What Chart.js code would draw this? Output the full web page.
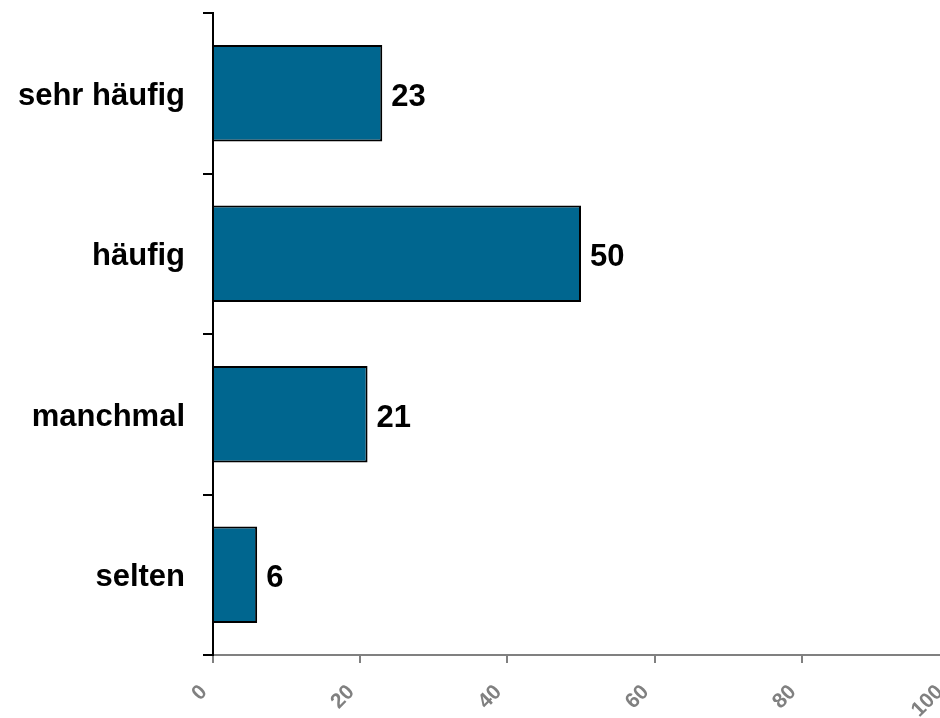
<!DOCTYPE html>
<html>
<head>
<meta charset="utf-8">
<script src="https://cdn.jsdelivr.net/npm/chart.js@4"></script>
<style>
  html, body { margin: 0; padding: 0; background: #fff; overflow: hidden; }
  #wrap { width: 980px; height: 718px; position: relative; }
</style>
</head>
<body>
<div id="wrap"><canvas id="freqChart"></canvas></div>
<script>
const categories = ['sehr häufig', 'häufig', 'manchmal', 'selten'];
const values = [23, 50, 21, 6];
const xTicks = [0, 20, 40, 60, 80, 100];

const FONT = '"Liberation Sans", Arial, sans-serif';

// draws the number to the right of each bar
const valueLabels = {
    id: 'valueLabels',
    afterDatasetsDraw(chart) {
        const ctx = chart.ctx;
        const meta = chart.getDatasetMeta(0);
        ctx.save();
        ctx.font = 'bold 31px ' + FONT;
        ctx.fillStyle = '#000';
        ctx.textAlign = 'left';
        ctx.textBaseline = 'middle';
        meta.data.forEach((bar, i) => {
            ctx.fillText(String(values[i]), bar.x + 9, bar.y + 4);
        });
        ctx.restore();
    }
};

const config = {
    type: 'bar',
    data: {
        labels: categories,
        datasets: [{
            data: values,
            backgroundColor: '#00668F',
            borderColor: '#000',
            borderWidth: 2,
            categoryPercentage: 1,
            barPercentage: 0.6
        }]
    },
    options: {
        indexAxis: 'y',
        responsive: true,
        maintainAspectRatio: false,
        animation: false,
        layout: { padding: { top: 13, right: 31, left: 0, bottom: 0 } },
        plugins: {
            legend: { display: false },
            tooltip: { enabled: false }
        },
        scales: {
            x: {
                min: 0,
                max: 100,
                afterBuildTicks: (axis) => { axis.ticks = xTicks.map(v => ({ value: v })); },
                afterFit: (axis) => {
                    axis.height = 63;
                    axis.paddingLeft = 0;
                    axis.paddingRight = 0;
                },
                grid: { drawOnChartArea: false, color: '#808080', tickLength: 8, lineWidth: 2 },
                border: { color: '#808080', width: 2 },
                ticks: {
                    color: '#808080',
                    font: { family: FONT, size: 21, weight: 'bold' },
                    minRotation: 45,
                    maxRotation: 45,
                    padding: 17,
                    labelOffset: -9
                }
            },
            y: {
                afterFit: (axis) => {
                    axis.width = 213;
                    axis.paddingTop = 0;
                    axis.paddingBottom = 0;
                },
                grid: { drawOnChartArea: false, color: '#000', tickLength: 10, lineWidth: 2, offset: true },
                border: { color: '#000', width: 2 },
                ticks: {
                    color: '#000',
                    font: { family: FONT, size: 31, weight: 'bold' },
                    padding: 18,
                    labelOffset: 3
                }
            }
        }
    },
    plugins: [valueLabels]
};

const ctx = document.getElementById('freqChart').getContext('2d');
const freqChart = new Chart(ctx, config);
</script>
</body>
</html>
